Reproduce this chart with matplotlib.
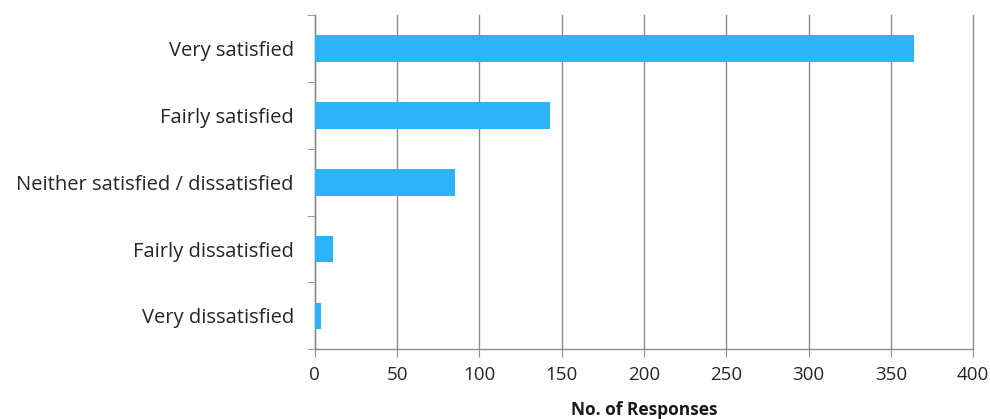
import numpy as np
import matplotlib
matplotlib.use("Agg")
import matplotlib.pyplot as plt

# Satisfaction survey responses
categories = ["Very satisfied", "Fairly satisfied", "Neither satisfied / dissatisfied",
              "Fairly dissatisfied", "Very dissatisfied"]
responses = [364, 143, 85, 11, 4]
x_ticks = [0, 50, 100, 150, 200, 250, 300, 350, 400]

plt.rcParams['font.family'] = ['Open Sans', 'DejaVu Sans']

fig = plt.figure(figsize=(9.9, 4.19), dpi=100)
ax = fig.add_axes([0.318, 0.1663, 0.665, 0.7977])

ypos = np.arange(len(categories))[::-1]
ax.barh(ypos, responses, height=0.4, color='#2DB3F7', zorder=3)

ax.set_xlim(0, 400)
ax.set_ylim(-0.5, len(categories) - 0.5)
ax.set_xticks(x_ticks)
ax.set_yticks(ypos)
ax.set_yticklabels(categories)
ax.set_yticks(np.arange(-0.5, len(categories)), minor=True)

grey = '#8c8c8c'
ax.grid(axis='x', color=grey, linewidth=1, zorder=0, clip_on=False)
for s in ['top', 'right']:
    ax.spines[s].set_visible(False)
for s in ['left', 'bottom']:
    ax.spines[s].set_color(grey)
    ax.spines[s].set_linewidth(1)

ax.tick_params(axis='y', which='major', length=0, pad=15, labelsize=14.5, labelcolor='#262626')
ax.tick_params(axis='y', which='minor', length=6, color=grey)
ax.tick_params(axis='x', length=6, color=grey, labelsize=13.5, labelcolor='#262626', pad=6)

ax.set_xlabel('No. of Responses', fontweight='bold', fontsize=12.5, labelpad=12, color='#1a1a1a')

fig.savefig('out.png', dpi=100)
